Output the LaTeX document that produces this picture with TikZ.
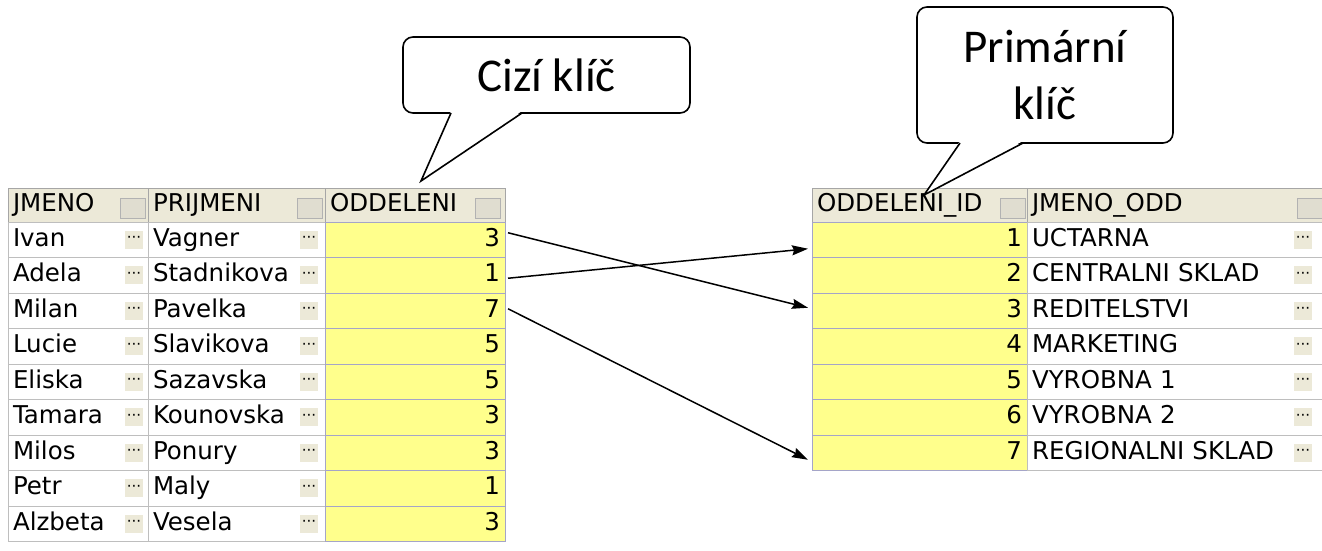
\documentclass[tikz,border=0pt]{standalone}
\usepackage{fontspec}
\setmainfont{DejaVu Sans}
\newfontfamily\bubblefont{Carlito}
\usetikzlibrary{positioning,arrows.meta}
\definecolor{keyyellow}{RGB}{255,255,140}
\definecolor{headbg}{RGB}{236,233,216}
\definecolor{gridgray}{RGB}{190,190,190}
\definecolor{keygrid}{RGB}{165,165,200}
\definecolor{btnface}{RGB}{224,221,208}

\begin{document}
\begin{tikzpicture}[x=1pt,y=-1pt,
			every node/.style={inner sep=0pt, outer sep=0pt,
				font=\fontsize{24.5}{29}\selectfont},
			cell/.style={anchor=north west, draw=gridgray, inner xsep=5pt,
				minimum height=35.5pt, text height=17pt, text depth=4pt},
			headcell/.style={cell, draw=gray!70, fill=headbg, minimum height=34pt, align=left},
			keycell/.style={cell, draw=keygrid, fill=keyyellow, align=right},
			hbtn/.style={draw=gray!60, fill=btnface, minimum width=25pt, minimum height=20pt},
			dots/.style={fill=headbg, minimum width=18pt, minimum height=18pt,
				font=\fontsize{15}{15}\selectfont},
			bubble/.style={draw, line width=1.6pt, rounded corners=10pt, fill=white,
				align=center, font=\bubblefont\fontsize{47}{57}\selectfont},
			tail/.style={line width=1.6pt, line join=miter},
			link/.style={line width=1.5pt, -{Stealth[length=16pt,width=10pt,inset=2pt]}}]
	\useasboundingbox (0,0) rectangle (1322,551);

	\node[headcell, text width=130pt] (h1) at (8,188) {JMENO};
	\node[headcell, text width=167pt] (h2) at (148,188) {PRIJMENI};
	\node[headcell, text width=170pt] (h3) at (325,188) {ODDELENI};
	\node[headcell, text width=205pt] (h4) at (812,188) {ODDELENI\_ID};
	\node[headcell, text width=285pt] (h5) at (1027,188) {JMENO\_ODD};
	\node[hbtn, left=3pt of h1.east, yshift=-3pt] (hb1) {};
	\node[hbtn, left=3pt of h2.east, yshift=-3pt] (hb2) {};
	\node[hbtn, left=5pt of h3.east, yshift=-3pt] (hb3) {};
	\node[hbtn, left=2pt of h4.east, yshift=-3pt] (hb4) {};
	\node[hbtn, left=0pt of h5.east, yshift=-3pt] (hb5) {};

	\foreach \fn/\ln/\dep [count=\i] in {Ivan/Vagner/3, Adela/Stadnikova/1,
			Milan/Pavelka/7, Lucie/Slavikova/5, Eliska/Sazavska/5, Tamara/Kounovska/3,
			Milos/Ponury/3, Petr/Maly/1, Alzbeta/Vesela/3} {
		\node[cell, text width=130pt, align=left] (jm\i) at (8,{222+35.5*(\i-1)}) {\fn};
		\node[cell, text width=167pt, align=left] (pr\i) at (148,{222+35.5*(\i-1)}) {\ln};
		\node[keycell, text width=170pt] (fk\i) at (325,{222+35.5*(\i-1)}) {\dep};
		\node[dots, left=5pt of jm\i.east] (jmd\i) {···};
		\node[dots, left=7pt of pr\i.east] (prd\i) {···};
	}

	\foreach \dname [count=\i] in {UCTARNA, CENTRALNI SKLAD, REDITELSTVI, MARKETING,
			VYROBNA 1, VYROBNA 2, REGIONALNI SKLAD} {
		\node[keycell, text width=205pt] (pk\i) at (812,{222+35.5*(\i-1)}) {\i};
		\node[cell, text width=285pt, align=left] (od\i) at (1027,{222+35.5*(\i-1)}) {\dname};
		\node[dots, left=10pt of od\i.east] (odd\i) {···};
	}

	\draw[link] ([xshift=3pt,yshift=7pt]fk1.east) -- ([xshift=-4pt,yshift=3pt]pk3.west);
	\draw[link] ([xshift=3pt,yshift=-3pt]fk2.east) -- ([xshift=-4pt,yshift=-9pt]pk1.west);
	\draw[link] ([xshift=3pt,yshift=2pt]fk3.east) -- ([xshift=-4pt,yshift=-7pt]pk7.west);

	\node[bubble, minimum width=287pt, minimum height=76pt] (cizi) at (546.5,75) {Cizí klíč};
	\coordinate (ciziTip) at (421,181);
	\fill[white] ([xshift=48pt,yshift=2pt]cizi.south west) -- (ciziTip)
		-- ([xshift=119pt,yshift=2pt]cizi.south west) -- cycle;
	\draw[tail] ([xshift=48pt]cizi.south west) -- (ciziTip) -- ([xshift=119pt]cizi.south west);

	\node[bubble, minimum width=256pt, minimum height=136pt] (prim) at (1045,75) {Primární\\klíč};
	\coordinate (primTip) at (924,195);
	\fill[white] ([xshift=43pt,yshift=2pt]prim.south west) -- (primTip)
		-- ([xshift=106pt,yshift=2pt]prim.south west) -- cycle;
	\draw[tail] ([xshift=43pt]prim.south west) -- (primTip) -- ([xshift=106pt]prim.south west);
\end{tikzpicture}
\end{document}
